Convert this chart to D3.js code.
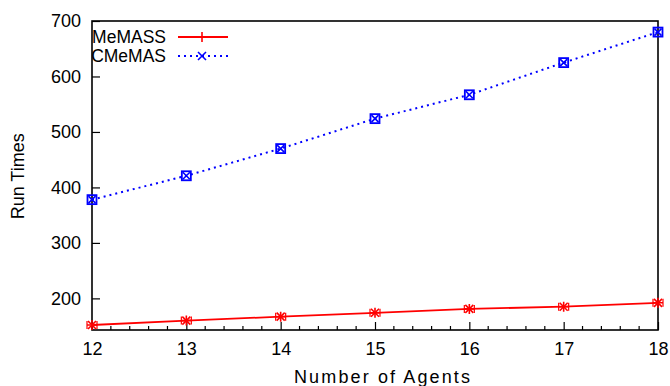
<!DOCTYPE html>
<html>
<head>
<meta charset="utf-8">
<script src="https://cdn.jsdelivr.net/npm/d3@7"></script>
<style>
    html, body { margin: 0; padding: 0; background: #fff; }
    svg text { font-family: "Liberation Sans", Arial, Helvetica, sans-serif; fill: #000; }
</style>
</head>
<body>
<div class="chart"></div>
<script>
'use strict';

// data
const agents = [12, 13, 14, 15, 16, 17, 18];
const memassTimes = [152, 160, 167, 174, 181, 185, 192];
const cmemasTimes = [378, 421, 470, 524, 567, 625, 680];
const yTickValues = [200, 300, 400, 500, 600, 700];
const seriesNames = ['MeMASS', 'CMeMAS'];

let width = 670,
    height = 386,
    margin = {
        top: 21,
        right: 12,
        bottom: 56,
        left: 92
    },
    chartWidth = width - margin.left - margin.right,
    chartHeight = height - margin.top - margin.bottom,

    fontSize = 18,
    legendFontSize = 17.5,
    redColor = '#ff0000',
    blueColor = '#0000ff',

    svg,
    x,
    y;

function buildScales() {
    x = d3.scaleLinear()
        .domain([12, 18])
        .range([0, chartWidth]);

    y = d3.scaleLinear()
        .domain([143, 700])
        .range([chartHeight, 0]);
}

function buildSVG() {
    svg = d3.select('.chart')
      .append('svg')
        .attr('width', width)
        .attr('height', height);

    return svg.append('g')
        .attr('transform', `translate(${margin.left},${margin.top})`);
}

function drawAxes(g) {
    // minor ticks on x every 0.2
    let minorTicks = d3.range(12, 18.0001, 0.2).filter(d => Math.abs(d - Math.round(d)) > 0.01);

    g.append('g')
        .selectAll('line')
        .data(minorTicks)
        .join('line')
        .attr('x1', d => x(d))
        .attr('x2', d => x(d))
        .attr('y1', chartHeight)
        .attr('y2', chartHeight - 4)
        .attr('stroke', '#000')
        .attr('stroke-width', 1.2);

    let xAxis = g.append('g')
        .attr('transform', `translate(0,${chartHeight})`)
        .call(d3.axisBottom(x).tickValues(agents).tickFormat(d3.format('d')).tickSizeInner(-8).tickSizeOuter(0));

    xAxis.selectAll('text')
        .attr('y', 12)
        .attr('dy', '0.71em')
        .style('font-size', fontSize + 'px');

    let yAxis = g.append('g')
        .call(d3.axisLeft(y).tickValues(yTickValues).tickSizeInner(-8).tickSizeOuter(0));

    yAxis.selectAll('text')
        .attr('x', -11)
        .style('font-size', fontSize + 'px');

    [xAxis, yAxis].forEach(a => {
        a.select('.domain').remove();
        a.selectAll('line').attr('stroke', '#000').attr('stroke-width', 1.2);
    });

    // frame
    g.append('rect')
        .attr('width', chartWidth)
        .attr('height', chartHeight)
        .attr('fill', 'none')
        .attr('stroke', '#000')
        .attr('stroke-width', 1.6);

    g.append('text')
        .attr('x', chartWidth / 2 + 7)
        .attr('y', chartHeight + 53)
        .attr('text-anchor', 'middle')
        .attr('textLength', 176)
        .attr('lengthAdjust', 'spacing')
        .style('font-size', fontSize + 'px')
        .text('Number of Agents');

    g.append('text')
        .attr('transform', `translate(${-margin.left + 24},${y(420)}) rotate(-90)`)
        .attr('text-anchor', 'middle')
        .style('font-size', fontSize + 'px')
        .text('Run Times');
}

function drawPlus(sel, size, color) {
    sel.append('path')
        .attr('d', `M${-size},0H${size}M0,${-size}V${size}`)
        .attr('stroke', color)
        .attr('stroke-width', 1.6)
        .attr('fill', 'none');
}

function drawCross(sel, size, color) {
    sel.append('path')
        .attr('d', `M${-size},${-size}L${size},${size}M${-size},${size}L${size},${-size}`)
        .attr('stroke', color)
        .attr('stroke-width', 1.6)
        .attr('fill', 'none');
}

function drawSeries(g) {
    let line = d3.line()
        .x(d => x(d[0]))
        .y(d => y(d[1]));

    let memass = d3.zip(agents, memassTimes),
        cmemas = d3.zip(agents, cmemasTimes);

    g.append('path')
        .datum(memass)
        .attr('d', line)
        .attr('fill', 'none')
        .attr('stroke', redColor)
        .attr('stroke-width', 1.8);

    g.append('path')
        .datum(cmemas)
        .attr('d', line)
        .attr('fill', 'none')
        .attr('stroke', blueColor)
        .attr('stroke-width', 2)
        .attr('stroke-dasharray', '2,4');

    let redPoints = g.append('g')
        .selectAll('g')
        .data(memass)
        .join('g')
        .attr('transform', d => `translate(${x(d[0])},${y(d[1])})`);

    redPoints.each(function() {
        let p = d3.select(this);
        drawPlus(p, 5, redColor);
        drawCross(p, 4, redColor);
        p.append('path')
            .attr('d', 'M-5,-4V4M5,-4V4')
            .attr('stroke', redColor)
            .attr('stroke-width', 1.2);
    });

    let bluePoints = g.append('g')
        .selectAll('g')
        .data(cmemas)
        .join('g')
        .attr('transform', d => `translate(${x(d[0])},${y(d[1])})`);

    bluePoints.each(function() {
        let p = d3.select(this);
        p.append('rect')
            .attr('x', -4.5)
            .attr('y', -4.5)
            .attr('width', 9)
            .attr('height', 9)
            .attr('fill', 'none')
            .attr('stroke', blueColor)
            .attr('stroke-width', 1.8);
        drawCross(p, 3.5, blueColor);
    });
}

function drawLegend(g) {
    let rows = [
        {name: seriesNames[0], color: redColor, dash: null, marker: drawPlus, y: 16},
        {name: seriesNames[1], color: blueColor, dash: '2,4', marker: drawCross, y: 35}
    ];

    let items = g.append('g')
        .selectAll('g')
        .data(rows)
        .join('g')
        .attr('transform', d => `translate(0,${d.y})`);

    items.append('text')
        .attr('x', 74)
        .attr('dy', '0.35em')
        .attr('text-anchor', 'end')
        .style('font-size', legendFontSize + 'px')
        .text(d => d.name);

    items.append('line')
        .attr('x1', 86)
        .attr('x2', 136)
        .attr('stroke', d => d.color)
        .attr('stroke-width', d => d.dash ? 2 : 1.8)
        .attr('stroke-dasharray', d => d.dash);

    items.each(function(d) {
        let m = d3.select(this).append('g').attr('transform', 'translate(110,0)');
        d.marker(m, d.marker === drawPlus ? 5 : 4, d.color);
    });
}

buildScales();
let chart = buildSVG();
drawAxes(chart);
drawSeries(chart);
drawLegend(chart);
</script>
</body>
</html>
